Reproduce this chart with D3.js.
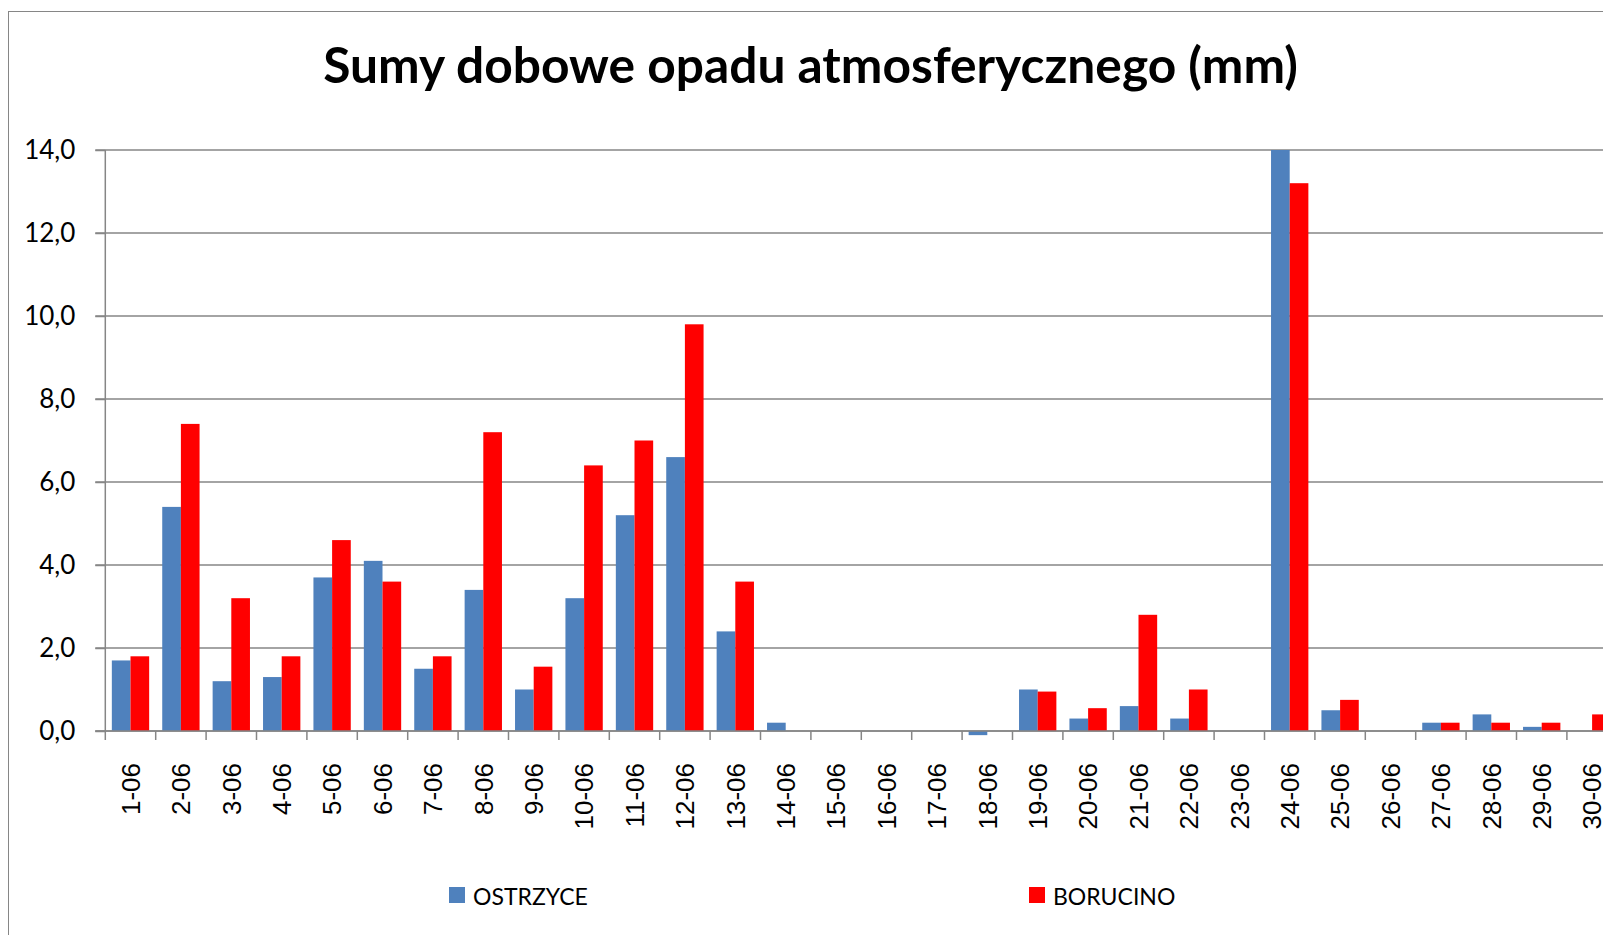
<!DOCTYPE html>
<meta charset="utf-8">
<title>Sumy dobowe opadu atmosferycznego</title>
<style>
body { margin: 0; background: #fff; overflow: hidden; }
svg { display: block; }
.grid line { stroke: #868686; stroke-width: 1.5px; }
.axis path, .axis line { stroke: #868686; stroke-width: 1.5px; }
.axis--y text { font: 26px Lato, sans-serif; fill: #000; }
.axis--x text { font: 26px "Liberation Sans", Arial, sans-serif; fill: #000; }
.legend text { font: 23px Lato, sans-serif; fill: #000; }
.title { font: bold 38px Lato, sans-serif; fill: #000; }
</style>
<svg id="chart" width="1603" height="935"></svg>
<script src="https://cdnjs.cloudflare.com/ajax/libs/d3/7.8.5/d3.min.js"></script>
<script>
// dni czerwca
let days = ["1-06", "2-06", "3-06", "4-06", "5-06", "6-06", "7-06", "8-06", "9-06", "10-06",
            "11-06", "12-06", "13-06", "14-06", "15-06", "16-06", "17-06", "18-06", "19-06", "20-06",
            "21-06", "22-06", "23-06", "24-06", "25-06", "26-06", "27-06", "28-06", "29-06", "30-06"];

// opad (mm)
let ostrzyce = [1.7, 5.4, 1.2, 1.3, 3.7, 4.1, 1.5, 3.4, 1.0, 3.2,
                5.2, 6.6, 2.4, 0.2, 0, 0, 0, -0.1, 1.0, 0.3,
                0.6, 0.3, 0, 14.0, 0.5, 0, 0.2, 0.4, 0.1, 0];
let borucino = [1.8, 7.4, 3.2, 1.8, 4.6, 3.6, 1.8, 7.2, 1.55, 6.4,
                7.0, 9.8, 3.6, 0, 0, 0, 0, 0, 0.95, 0.55,
                2.8, 1.0, 0, 13.2, 0.75, 0, 0.2, 0.2, 0.2, 0.4];

let seriesNames = ["OSTRZYCE", "BORUCINO"];
let seriesColors = ["#4F81BD", "#FF0000"];
let yTicks = [0, 2, 4, 6, 8, 10, 12, 14];

let svg = d3.select("#chart");

// ramka wykresu
svg.append("rect")
    .attr("x", 8.5).attr("y", 11.5)
    .attr("width", 1700).attr("height", 1000)
    .attr("fill", "none")
    .attr("stroke", "#868686")
    .attr("stroke-width", 1);

let left = 105.3, step = 50.4;
let x = d3.scaleBand().domain(days).range([left, left + step * days.length]);
let xs = d3.scaleBand().domain(seriesNames).range([0, x.bandwidth()]).paddingOuter(0.35);
let y = d3.scaleLinear().domain([0, 14]).range([731, 150]);
let fmt = v => d3.format(".1f")(v).replace(".", ",");

// linie siatki
svg.append("g").attr("class", "grid")
  .selectAll("line")
  .data(yTicks)
  .enter().append("line")
    .attr("x1", left - 10).attr("x2", 1700)
    .attr("y1", d => y(d)).attr("y2", d => y(d));

// słupki
let rows = days.map((d, i) => ({ day: d, values: [ostrzyce[i], borucino[i]] }));
let groups = svg.append("g").selectAll("g")
  .data(rows)
  .enter().append("g")
    .attr("transform", d => "translate(" + x(d.day) + ",0)");
groups.selectAll("rect")
  .data(d => d.values.map((v, k) => ({ name: seriesNames[k], value: v, k: k })))
  .enter().append("rect")
    .attr("x", d => xs(d.name))
    .attr("width", xs.bandwidth())
    .attr("y", d => y(Math.max(0, d.value)))
    .attr("height", d => Math.abs(y(d.value) - y(0)))
    .attr("fill", d => seriesColors[d.k]);

// oś Y
let yAxis = svg.append("g")
    .attr("class", "axis axis--y")
    .attr("transform", "translate(" + left + ",0)")
    .call(d3.axisLeft(y).tickValues(yTicks).tickSize(10).tickPadding(20).tickFormat(fmt));
yAxis.select(".domain").attr("d", "M0," + y(14) + "V" + y(0));

// oś X
let xAxis = svg.append("g")
    .attr("class", "axis axis--x")
    .attr("transform", "translate(0," + y(0) + ")")
    .call(d3.axisBottom(x).tickSize(0));
xAxis.select(".domain").attr("d", "M" + (left - 10) + ",0H1700");
xAxis.selectAll(".tick line").remove();
xAxis.selectAll(".tick text")
    .attr("transform", "rotate(-90)")
    .attr("text-anchor", "end")
    .attr("x", -32)
    .attr("y", 0)
    .attr("dy", "0.36em");
// znaczniki na granicach kategorii
xAxis.append("g").selectAll("line")
  .data(days)
  .enter().append("line")
    .attr("x1", d => x(d)).attr("x2", d => x(d))
    .attr("y1", 0).attr("y2", 9);

// tytuł
let title = svg.append("text")
    .attr("class", "title")
    .attr("x", 810.5)
    .attr("y", 83)
    .attr("text-anchor", "middle")
    .text("Sumy dobowe opadu atmosferycznego (mm)");
let tw = title.node().getComputedTextLength();
title.style("font-size", (38 * 975 / tw) + "px");

// legenda
let legend = svg.append("g").attr("class", "legend")
  .selectAll("g")
  .data(seriesNames)
  .enter().append("g")
    .attr("transform", (d, i) => "translate(" + [449, 1029][i] + ",887)");
legend.append("rect")
    .attr("width", 16).attr("height", 16)
    .attr("fill", (d, i) => seriesColors[i]);
legend.append("text")
    .attr("x", 24).attr("y", 18)
    .text(d => d);
</script>
